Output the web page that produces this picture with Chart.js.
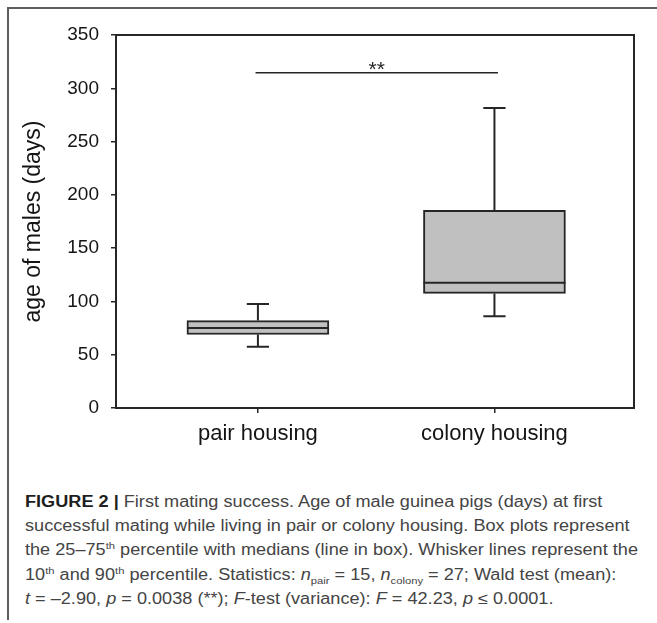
<!DOCTYPE html>
<html>
<head>
<meta charset="utf-8">
<script src="https://cdn.jsdelivr.net/npm/chart.js@4.4.1/dist/chart.umd.min.js"></script>
<style>
  body { margin: 0; background: #fff; }
  #wrap { position: relative; width: 657px; height: 623px; overflow: hidden; }
  #frame { position: absolute; left: 7px; top: 7px; width: 700px; height: 611px;
    border-top: 2px solid #5e5e5e; border-left: 2px solid #5e5e5e; }
  #chart { position: absolute; left: 0; top: 0; }
  #caption { position: absolute; left: 25px; top: 490px; transform-origin: 0 0;
    font-family: "Liberation Sans", Arial, sans-serif; font-size: 15.8px; line-height: 24.2px;
    color: #444; white-space: nowrap; }
  #caption b { color: #1e1e1e; }
  #caption sup, #caption sub { font-size: 0.62em; line-height: 0; }
</style>
</head>
<body>
<div id="wrap">
  <div id="frame"></div>
  <canvas id="chart" width="657" height="470"></canvas>
  <div id="caption">
    <div><b>FIGURE 2 |</b> First mating success. Age of male guinea pigs (days) at first</div>
    <div id="capLine2">successful mating while living in pair or colony housing. Box plots represent</div>
    <div>the 25–75<sup>th</sup> percentile with medians (line in box). Whisker lines represent the</div>
    <div>10<sup>th</sup> and 90<sup>th</sup> percentile. Statistics: <i>n</i><sub>pair</sub> = 15, <i>n</i><sub>colony</sub> = 27; Wald test (mean):</div>
    <div><i>t</i> = –2.90, <i>p</i> = 0.0038 (**); <i>F</i>-test (variance): <i>F</i> = 42.23, <i>p</i> ≤ 0.0001.</div>
  </div>
</div>
<script>
(() => {
    'use strict'

    // box plot values (days)
    const groups = ['pair housing', 'colony housing']
    const groupPos = [1, 2]
    const whiskerLow = [57.5, 86]
    const q1 = [69, 107.5]
    const medians = [75, 117.5]
    const q3 = [82, 185.5]
    const whiskerHigh = [97.5, 281.5]
    const yTicks = [0, 50, 100, 150, 200, 250, 300, 350]

    // significance bracket
    const sigFrom = 0.99
    const sigTo = 2.015
    const sigY = 314.5
    const sigText = '**'

    const capHalf = 0.047
    const boxHalf = 0.3
    const ink = '#262626'
    const gap = x => ({ x: x, y: null })

    const whiskerPts = []
    const medianPts = []
    groupPos.forEach((x, i) => {
        whiskerPts.push(
            { x: x, y: q3[i] }, { x: x, y: whiskerHigh[i] }, gap(x),
            { x: x - capHalf, y: whiskerHigh[i] }, { x: x + capHalf, y: whiskerHigh[i] }, gap(x),
            { x: x, y: q1[i] }, { x: x, y: whiskerLow[i] }, gap(x),
            { x: x - capHalf, y: whiskerLow[i] }, { x: x + capHalf, y: whiskerLow[i] }, gap(x)
        )
        medianPts.push({ x: x - boxHalf, y: medians[i] }, { x: x + boxHalf, y: medians[i] }, gap(x))
    })

    const sigLabel = {
        id: 'sigLabel',
        afterDatasetsDraw(chart) {
            const { ctx, scales: { x, y } } = chart
            ctx.save()
            ctx.font = '21px "Liberation Sans", Arial, sans-serif'
            ctx.fillStyle = ink
            ctx.textAlign = 'center'
            ctx.textBaseline = 'alphabetic'
            ctx.fillText(sigText, x.getPixelForValue((sigFrom + sigTo) / 2), y.getPixelForValue(sigY) + 3)
            ctx.restore()
        }
    }

    const lineDefaults = {
        type: 'line',
        borderColor: ink,
        borderWidth: 2,
        pointRadius: 0,
        spanGaps: false,
        fill: false,
        tension: 0
    }

    const ctx = document.getElementById('chart')
    // eslint-disable-next-line no-unused-vars
    const chart = new Chart(ctx, {
        type: 'bar',
        data: {
            datasets: [
                Object.assign({}, lineDefaults, { data: medianPts, order: 0 }),
                Object.assign({}, lineDefaults, { data: whiskerPts, order: 1 }),
                Object.assign({}, lineDefaults, {
                    data: [{ x: sigFrom, y: sigY }, { x: sigTo, y: sigY }],
                    borderWidth: 1.5,
                    order: 1
                }),
                {
                    type: 'bar',
                    data: groupPos.map((x, i) => ({ x: x, y: [q1[i], q3[i]] })),
                    backgroundColor: '#c0c0c0',
                    borderColor: ink,
                    borderWidth: 2,
                    borderSkipped: false,
                    barThickness: 142,
                    order: 2
                }
            ]
        },
        options: {
            responsive: false,
            animation: false,
            events: [],
            layout: { padding: { left: 0, right: 23, top: 35, bottom: 17 } },
            plugins: {
                legend: { display: false },
                tooltip: { enabled: false }
            },
            scales: {
                x: {
                    type: 'linear',
                    position: 'bottom',
                    min: 0.4,
                    max: 2.59,
                    offset: false,
                    afterBuildTicks: s => { s.ticks = groupPos.map(v => ({ value: v })) },
                    afterFit: s => { s.height = 45 },
                    ticks: {
                        callback: v => groups[groupPos.indexOf(v)],
                        font: { family: '"Liberation Sans", Arial, sans-serif', size: 22 },
                        color: '#151515',
                        padding: 8,
                        maxRotation: 0
                    },
                    grid: { display: true, offset: false, drawOnChartArea: false, drawTicks: true, tickLength: 5, color: ink, lineWidth: 1.5 },
                    border: { display: true, color: ink, width: 2 }
                },
                y: {
                    type: 'linear',
                    position: 'left',
                    min: 0,
                    max: 350,
                    afterBuildTicks: s => { s.ticks = yTicks.map(v => ({ value: v })) },
                    afterFit: s => { s.width = 116 },
                    ticks: {
                        font: { family: '"Liberation Sans", Arial, sans-serif', size: 19 },
                        color: '#151515',
                        padding: 12
                    },
                    title: {
                        display: true,
                        text: 'age of males (days)',
                        font: { family: '"Liberation Sans", Arial, sans-serif', size: 23 },
                        color: '#151515',
                        padding: { top: 20, bottom: 0 }
                    },
                    grid: { display: true, drawOnChartArea: false, drawTicks: true, tickLength: 5, color: ink, lineWidth: 1.5 },
                    border: { display: true, color: ink, width: 2 }
                },
                xTop: {
                    type: 'linear',
                    axis: 'x',
                    position: 'top',
                    min: 0,
                    max: 1,
                    offset: false,
                    afterFit: s => { s.height = 0 },
                    ticks: { display: false },
                    grid: { display: true, offset: false, drawOnChartArea: false, drawTicks: false },
                    border: { display: true, color: ink, width: 2 }
                },
                yRight: {
                    type: 'linear',
                    axis: 'y',
                    position: 'right',
                    min: 0,
                    max: 1,
                    afterFit: s => { s.width = 0 },
                    ticks: { display: false },
                    grid: { display: true, drawOnChartArea: false, drawTicks: false },
                    border: { display: true, color: ink, width: 2 }
                }
            }
        },
        plugins: [sigLabel]
    })

    // stretch the caption so its longest line spans the figure like the original
    const caption = document.getElementById('caption')
    const line2 = document.getElementById('capLine2')
    const w = line2.getBoundingClientRect().width
    if (w > 0) caption.style.transform = 'scaleX(' + (613 / w).toFixed(4) + ')'
})()
</script>
</body>
</html>
